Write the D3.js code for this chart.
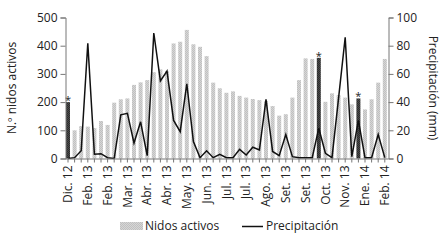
<html>
<head>
<style>
body{margin:0;background:#fff;}
svg{display:block;font-family:"Open Sans",sans-serif;}
</style>
</head>
<body>
<script src="https://d3js.org/d3.v7.min.js"></script>
<script>
var width = 445, height = 241;

// active nests per sampling date (left axis)
let nidos = [200,100,115,113,108,133,119,198,210,213,261,270,278,306,316,310,408,414,456,405,396,363,269,249,233,238,222,216,211,207,204,186,152,157,216,278,355,353,357,201,231,225,216,192,213,174,210,269,353]
// precipitation in mm (right axis)
let precip = [0,0.6,5.5,81.7,3,3.4,0.6,0,31,32,11,26,2,89,55,62,27,19,53,12,0.6,5.5,0.6,3,0.6,0.6,6.5,2.5,8,6,42,5,2,17,1.3,0.6,0.6,0.6,21.5,3.7,0.6,43,86,1.3,27,0.6,0.6,17,0.6]
// dates marked with an asterisk (dark bars)
let marcados = [0,38,44]
let etiquetas = ["Dic. 12","Feb. 13","Feb. 13","Mar. 13","Abr. 13","Abr. 13","May. 13","Jun. 13","Jul. 13","Jul. 13","Ago. 13","Set. 13","Set. 13","Oct. 13","Nov. 13","Ene. 14","Feb. 14"]

var svg = d3.select("body").append("svg")
	.attr("width", width).attr("height", height)

let defs = svg.append("defs")
function trama(id, a, b){
	let p = defs.append("pattern").attr("id", id)
		.attr("width", 2).attr("height", 2).attr("patternUnits", "userSpaceOnUse")
	p.append("rect").attr("width", 2).attr("height", 2).attr("fill", a)
	p.append("rect").attr("width", 1).attr("height", 1).attr("fill", b)
	p.append("rect").attr("x", 1).attr("y", 1).attr("width", 1).attr("height", 1).attr("fill", b)
}
trama("claro", "#d6d6d6", "#c0c0c0")
trama("oscuro", "#4a4a4a", "#2e2e2e")

let idx = nidos.map((d,i) => i)
var x = d3.scaleBand().domain(idx).range([64.7, 388.1]).paddingInner(0.4).paddingOuter(0.2)
var yL = d3.scaleLinear().domain([0,500]).range([158.5,17.5])
var yR = d3.scaleLinear().domain([0,100]).range([158.5,17.5])

// bars
svg.append("g").selectAll("rect")
	.data(nidos).enter().append("rect")
	.attr("x", (d,i) => x(i) + x.bandwidth()/2 - 2)
	.attr("y", d => yL(d))
	.attr("width", 4)
	.attr("height", d => yL(0) - yL(d))
	.attr("fill", (d,i) => marcados.includes(i) ? "url(#oscuro)" : "url(#claro)")

// asterisks
svg.append("g").selectAll("text")
	.data(marcados).enter().append("text")
	.attr("x", i => x(i) + x.bandwidth()/2)
	.attr("y", i => yL(nidos[i]) + 2)
	.attr("text-anchor", "middle")
	.attr("fill", "#222")
	.style("font-size", "11px")
	.text("*")

// line
let linea = d3.line().x((d,i) => x(i) + x.bandwidth()/2).y(d => yR(d))
svg.append("path").datum(precip)
	.attr("d", linea)
	.attr("fill", "none").attr("stroke", "#111").attr("stroke-width", 1.5)
	.attr("stroke-linejoin", "miter")

// axes
let gx = svg.append("g").attr("transform", "translate(0,158.5)")
	.call(d3.axisBottom(x).tickSize(4).tickPadding(3)
		.tickFormat(i => i % 3 == 0 ? etiquetas[i/3] : ""))
gx.select(".domain").attr("d", "M65.5,0.5H388.5")
gx.selectAll(".tick text")
	.attr("transform", "rotate(-90)")
	.attr("text-anchor", "end")
	.attr("x", -7).attr("y", 0).attr("dy", "0.35em")

let gl = svg.append("g").attr("transform", "translate(65.5,0)")
	.call(d3.axisLeft(yL).tickValues([0,100,200,300,400,500]).tickSize(5).tickPadding(3))
let gr = svg.append("g").attr("transform", "translate(388.5,0)")
	.call(d3.axisRight(yR).tickValues([0,20,40,60,80,100]).tickSize(5).tickPadding(3))

svg.selectAll(".domain, .tick line").attr("stroke", "#777")
svg.selectAll(".tick text").style("font-size", "12px").style("font-family", "Open Sans").attr("fill", "#222")

// axis titles
svg.append("text").attr("transform", "translate(16,88) rotate(-90)")
	.attr("text-anchor", "middle").attr("fill", "#222").style("font-size", "12px")
	.text("N.º nidos activos")
svg.append("text").attr("transform", "translate(429,88) rotate(90)")
	.attr("text-anchor", "middle").attr("fill", "#222").style("font-size", "12px")
	.text("Precipitación (mm)")

// legend
let lg = svg.append("g").attr("transform", "translate(0,226)")
lg.append("rect").attr("x", 120).attr("y", -4).attr("width", 23).attr("height", 8).attr("fill", "url(#claro)")
lg.append("text").attr("x", 145).attr("y", 0).attr("dy", "0.35em").attr("fill", "#222").style("font-size", "12px").text("Nidos activos")
lg.append("line").attr("x1", 242).attr("x2", 263).attr("y1", 0.5).attr("y2", 0.5).attr("stroke", "#111").attr("stroke-width", 1.5)
lg.append("text").attr("x", 266).attr("y", 0).attr("dy", "0.35em").attr("fill", "#222").style("font-size", "12px").text("Precipitación")
</script>
</body>
</html>
